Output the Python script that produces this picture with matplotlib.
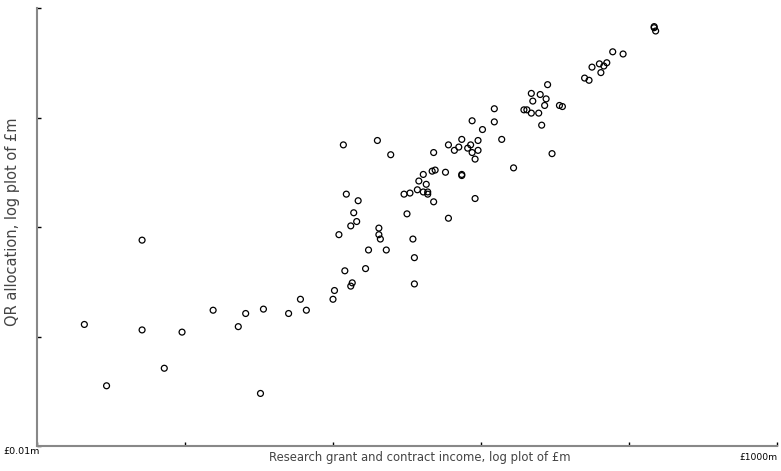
import matplotlib
matplotlib.use("Agg")
import matplotlib.pyplot as plt
import numpy as np

# log10 of research grant & contract income (£m)
income_log10 = [
    -1.68, -1.53, -1.29, -1.29, -1.14, -1.02, -0.81, -0.64, -0.59, -0.47,
    -0.49, -0.30, -0.18, -0.22, 0.00, 0.01, 0.13, 0.12, 0.55, 0.08,
    0.22, 0.55, 0.24, 0.36, 0.04, 0.31, 0.31, 0.32, 0.54, 0.12,
    0.16, 0.14, 0.50, 0.78, 0.09, 0.17, 0.48, 0.52, 0.57, 0.61,
    0.64, 0.64, 0.68, 0.96, 0.58, 0.63, 0.61, 0.67, 0.69, 0.76,
    0.87, 0.87, 1.22, 0.68, 0.96, 0.94, 0.98, 0.91, 0.82, 0.78,
    0.85, 0.93, 0.87, 0.98, 1.14, 1.01, 0.94, 1.09, 1.09, 1.48,
    0.07, 0.30, 0.39, 1.29, 1.31, 1.34, 1.39, 1.41, 1.43, 1.44,
    1.35, 1.40, 1.34, 1.45, 1.53, 1.55, 1.70, 1.73, 1.75, 1.80,
    1.81, 1.83, 1.85, 1.89, 1.96, 2.17, 2.17, 2.18,
]
# log10 of QR allocation (£m)
qr_log10 = [
    -0.89, -1.45, -0.12, -0.94, -1.29, -0.96, -0.76, -0.91, -0.79, -0.75,
    -1.52, -0.79, -0.76, -0.66, -0.66, -0.58, -0.51, -0.54, -0.52, -0.40,
    -0.38, -0.28, -0.21, -0.21, -0.07, -0.01, -0.07, -0.11, -0.11, 0.01,
    0.05, 0.13, 0.12, 0.08, 0.30, 0.24, 0.30, 0.31, 0.34, 0.32,
    0.32, 0.30, 0.23, 0.26, 0.42, 0.39, 0.48, 0.51, 0.52, 0.50,
    0.47, 0.48, 0.54, 0.68, 0.62, 0.68, 0.70, 0.72, 0.70, 0.75,
    0.73, 0.75, 0.80, 0.79, 0.80, 0.89, 0.97, 0.96, 1.08, 0.67,
    0.75, 0.79, 0.66, 1.07, 1.07, 1.04, 1.04, 0.93, 1.11, 1.17,
    1.15, 1.21, 1.22, 1.30, 1.11, 1.10, 1.36, 1.34, 1.46, 1.49,
    1.41, 1.47, 1.50, 1.60, 1.58, 1.83, 1.82, 1.79,
]

x_label = "Research grant and contract income, log plot of £m"
y_label = "QR allocation, log plot of £m"
x_min_label = "£0.01m"
x_max_label = "£1000m"

income = 10 ** np.array(income_log10)
qr = 10 ** np.array(qr_log10)

plt.rcParams['font.family'] = ['DejaVu Sans']
fig = plt.figure(figsize=(7.81, 4.71), dpi=100)
ax = fig.add_axes([37/781, 25/471, 740/781, 438/471])
ax.scatter(income, qr, s=18, facecolors='none', edgecolors='black', linewidths=0.9, zorder=3)
ax.set_xscale('log')
ax.set_yscale('log')
ax.set_xlim(0.01, 1000)
ax.set_ylim(0.01, 100)
ax.set_xticks([0.01, 0.1, 1, 10, 100, 1000])
ax.set_yticks([0.01, 0.1, 1, 10, 100])
ax.xaxis.set_minor_locator(matplotlib.ticker.NullLocator())
ax.yaxis.set_minor_locator(matplotlib.ticker.NullLocator())
ax.set_xticklabels([])
ax.set_yticklabels([])
ax.tick_params(direction='in', length=3, width=1, color='black')
for s in ['top', 'right']:
    ax.spines[s].set_visible(False)
for s in ['left', 'bottom']:
    ax.spines[s].set_color('#888888')
    ax.spines[s].set_linewidth(1.5)

fig.text(3/781, 1 - 452/471, x_min_label, fontsize=6.8, color='black', ha='left', va='center')
fig.text(778/781, 1 - 457/471, x_max_label, fontsize=6.6, color='black', ha='right', va='center')
fig.text(420/781, 1 - 458/471, x_label, fontsize=8.4, color='#444444', ha='center', va='center')
fig.text(13/781, 1 - 222/471, y_label, fontsize=10.5, color='#444444', ha='center', va='center', rotation=90)

fig.savefig('out.png', dpi=100)
